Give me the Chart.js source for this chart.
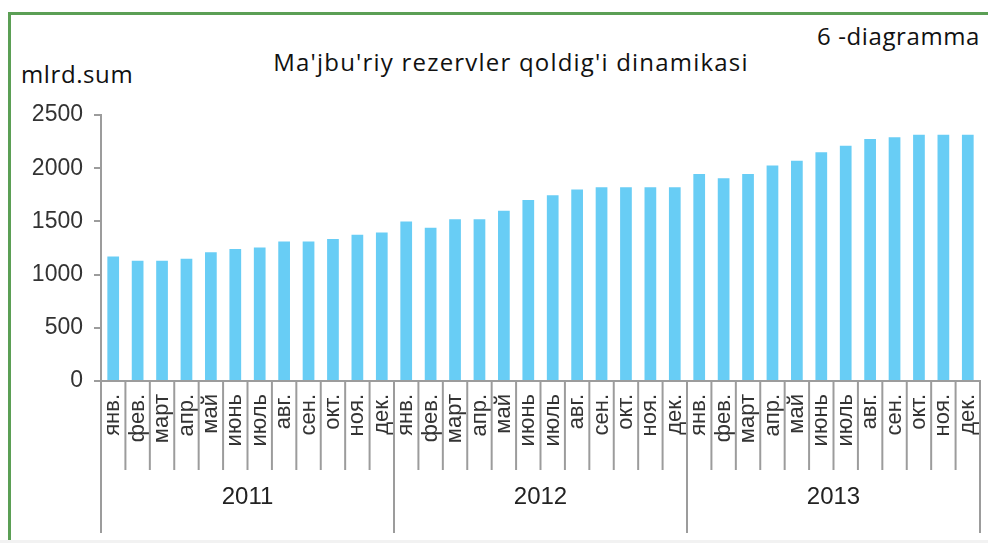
<!DOCTYPE html>
<html>
<head>
<meta charset="utf-8">
<script src="https://cdn.jsdelivr.net/npm/chart.js@4.4.0/dist/chart.umd.min.js"></script>
<style>
    body { margin: 0; background: #fff; }
    #wrap { position: relative; width: 988px; height: 543px; overflow: hidden; }
    #frame { position: absolute; left: 8px; top: 12px; width: 990px; height: 540px;
        border-left: 3px solid #5b9f55; border-top: 3px solid #5b9f55; }
    .txt { position: absolute; font-family: 'Open Sans', Lato, sans-serif; font-size: 24px;
        letter-spacing: 0.6px; color: #111; line-height: 24px; white-space: nowrap; }
    #title { left: 511px; top: 50px; transform: translateX(-50%); letter-spacing: 1.2px; }
    #num { right: 8px; top: 24px; }
    #unit { left: 21px; top: 62px; }
    #bottomline { position: absolute; left: 0; top: 540px; width: 988px; height: 3px; background: #f2f2f2; }
    canvas { position: absolute; left: 0; top: 0; }
</style>
</head>
<body>
<div id="wrap">
    <div id="frame"></div>
    <div class="txt" id="num">6 -diagramma</div>
    <div class="txt" id="title">Ma'jbu'riy rezervler qoldig'i dinamikasi</div>
    <div class="txt" id="unit">mlrd.sum</div>
    <div id="bottomline"></div>
    <canvas id="myChart" width="988" height="543"></canvas>
</div>
<script>
var years = ['2011', '2012', '2013'];
var months = ['янв.', 'фев.', 'март', 'апр.', 'май', 'июнь', 'июль', 'авг.', 'сен.', 'окт.', 'ноя.', 'дек.'];
var reserves2011 = [1170, 1130, 1130, 1150, 1210, 1240, 1255, 1310, 1310, 1335, 1375, 1395];
var reserves2012 = [1500, 1440, 1520, 1520, 1600, 1700, 1745, 1800, 1820, 1820, 1820, 1820];
var reserves2013 = [1945, 1905, 1945, 2025, 2070, 2150, 2210, 2275, 2290, 2315, 2315, 2315];
var yTicks = [0, 500, 1000, 1500, 2000, 2500];

var axisGray = '#9c9c9c';
var tickFont = '"Liberation Sans", Arial, sans-serif';

// one label per month, all three years in a row
var labels = [];
years.forEach(function () {
    months.forEach(function (m) { labels.push(m); });
});
var dataValues = reserves2011.concat(reserves2012, reserves2013);

// separators under the x axis + year names
var yearAxisPlugin = {
    id: 'yearAxis',
    afterDraw: function (chart) {
        var ctx = chart.ctx;
        var x = chart.scales.x;
        var n = labels.length;
        var step = (x.getPixelForTick(1) - x.getPixelForTick(0));
        var top = x.top;

        ctx.save();
        ctx.strokeStyle = axisGray;
        ctx.lineWidth = 2;
        for (var i = 0; i <= n; i++) {
            var px = x.getPixelForTick(Math.min(i, n - 1)) + (i < n ? -step / 2 : step / 2);
            var isYear = (i % months.length === 0);
            ctx.beginPath();
            ctx.moveTo(px, top);
            ctx.lineTo(px, isYear ? top + 152 : top + 89);
            ctx.stroke();
        }

        ctx.fillStyle = '#222';
        ctx.font = '24px ' + tickFont;
        ctx.textAlign = 'center';
        ctx.textBaseline = 'middle';
        years.forEach(function (y, k) {
            var a = x.getPixelForTick(k * months.length);
            var b = x.getPixelForTick(k * months.length + months.length - 1);
            ctx.fillText(y, (a + b) / 2, top + 116);
        });
        ctx.restore();
    }
};

var ctx = document.getElementById('myChart').getContext('2d');

new Chart(ctx, {
    type: 'bar',
    data: {
        labels: labels,
        datasets: [{
            label: 'mlrd.sum',
            data: dataValues,
            backgroundColor: '#68cdf5',
            borderWidth: 0,
            barPercentage: 1,
            categoryPercentage: 0.48
        }]
    },
    options: {
        responsive: false,
        animation: false,
        layout: {
            padding: { left: 0, right: 8, top: 115, bottom: 0 }
        },
        scales: {
            x: {
                type: 'category',
                grid: { display: false },
                border: { display: true, color: axisGray, width: 2 },
                ticks: {
                    color: '#333',
                    autoSkip: false,
                    minRotation: 90,
                    maxRotation: 90,
                    padding: 5,
                    font: { family: tickFont, size: 22 }
                },
                afterFit: function (s) {
                    s.height = 162;
                    s.paddingLeft = 0;
                    s.paddingRight = 0;
                }
            },
            y: {
                min: 0,
                max: 2500,
                afterBuildTicks: function (s) {
                    s.ticks = yTicks.map(function (v) { return { value: v }; });
                },
                grid: {
                    drawOnChartArea: false,
                    drawTicks: true,
                    tickLength: 7,
                    color: axisGray,
                    lineWidth: 2
                },
                border: { display: true, color: axisGray, width: 2 },
                ticks: {
                    color: '#333',
                    padding: 11,
                    font: { family: tickFont, size: 23 },
                    callback: function (v) { return String(v); }
                },
                afterFit: function (s) { s.width = 101; }
            }
        },
        plugins: {
            legend: { display: false },
            tooltip: { enabled: false }
        }
    },
    plugins: [yearAxisPlugin]
});
</script>
</body>
</html>
